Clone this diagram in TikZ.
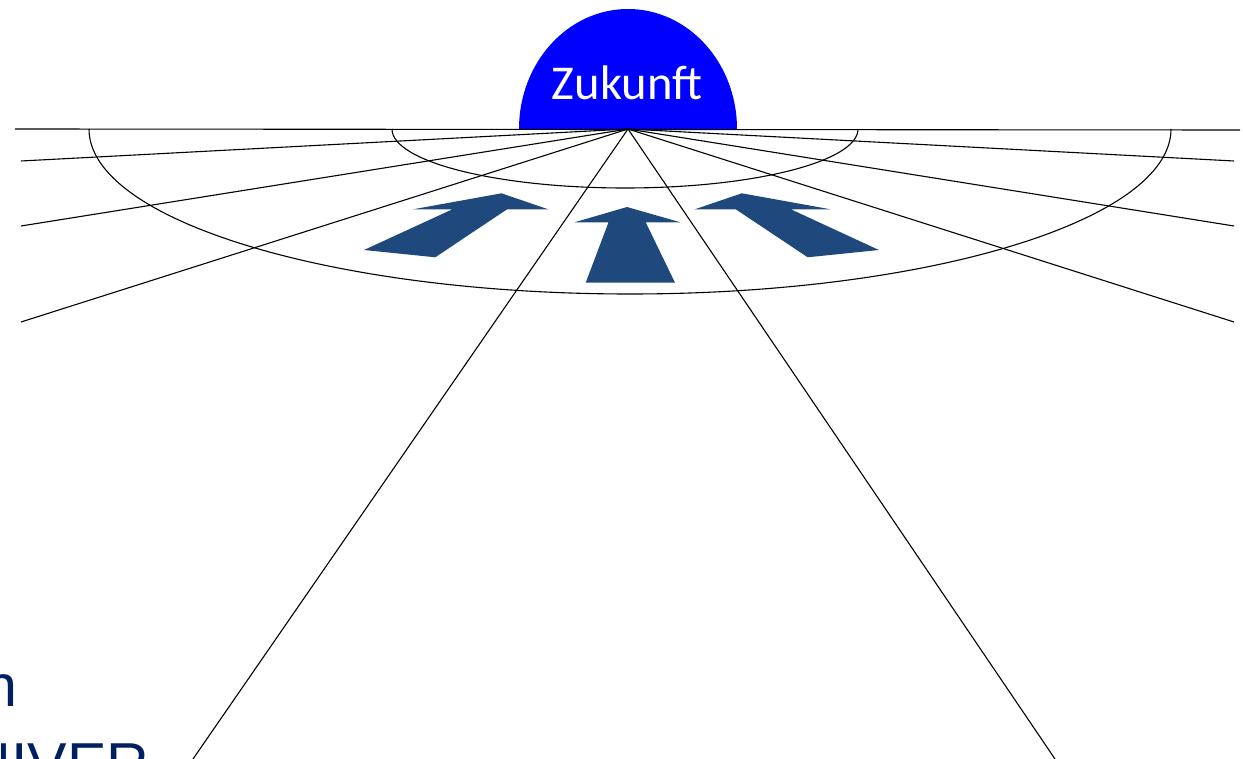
\documentclass[tikz,border=0pt]{standalone}
\usepackage{fontspec}
\setmainfont{Carlito}
\newfontfamily\bgfont{Liberation Sans}
\definecolor{arrowblue}{RGB}{31,73,125}
\definecolor{navytext}{RGB}{0,32,96}
\begin{document}
\begin{tikzpicture}[x=0.5pt,y=-0.5pt,
  thinline/.style={black,line width=0.55pt},
  bigarrow/.style={fill=arrowblue,draw=none},
  bgtext/.style={text=navytext,font=\bgfont\fontsize{29.6pt}{36pt}\selectfont,inner sep=0pt}]
\useasboundingbox (0,0) rectangle (1243,759);
\clip (0,0) rectangle (1243,759);
% sun
\fill[blue] (519,129) arc[start angle=180,end angle=0,x radius=54.5pt,y radius=60pt] -- cycle;
\node[text=white,font=\fontsize{24.3pt}{28pt}\selectfont,anchor=base,inner sep=0pt] (zukunft) at (627,100) {Zukunft};
% coordinates
\coordinate (V) at (628,129);
\coordinate (H1) at (15,129);
\coordinate (H2) at (1240,130);
\coordinate (L1) at (21,161);
\coordinate (L2) at (21,226);
\coordinate (L3) at (21,322);
\coordinate (L4) at (193,759);
\coordinate (R1) at (1234,161);
\coordinate (R2) at (1234,226);
\coordinate (R3) at (1234,322);
\coordinate (R4) at (1055,759);
% horizon and rays
\draw[thinline] (H1) -- (H2);
\foreach \p in {L1,L2,L3,L4,R1,R2,R3,R4} \draw[thinline] (V) -- (\p);
% ellipse arcs
\draw[thinline] (392,129) arc[start angle=180,end angle=360,x radius=116.5pt,y radius=29.5pt];
\draw[thinline] (89,129) arc[start angle=180,end angle=360,x radius=270.5pt,y radius=82.5pt];
% arrows
\fill[bigarrow] (501.5,193.3) -- (548.2,209.3) -- (507.1,209.3) -- (435.2,257.3) -- (364,250) -- (452.4,209.3) -- (413.1,209.3) -- cycle;
\fill[bigarrow] (627,207) -- (680.4,222.3) -- (645.7,222.3) -- (675,282.7) -- (585.7,282.7) -- (608.5,222.3) -- (574.5,222.3) -- cycle;
\fill[bigarrow] (741.8,193.3) -- (694.8,209.3) -- (735.8,209.3) -- (807.7,257.3) -- (878.9,250) -- (790.9,209.3) -- (830.5,209.3) -- cycle;
% background text fragments (cut off at the picture's edge, as in the reference)
\node[bgtext,anchor=base west] (frag1) at (-16,706) {n};
\node[bgtext,anchor=base west] (frag2) at (-32,784) {NIVER};
\end{tikzpicture}
\end{document}
